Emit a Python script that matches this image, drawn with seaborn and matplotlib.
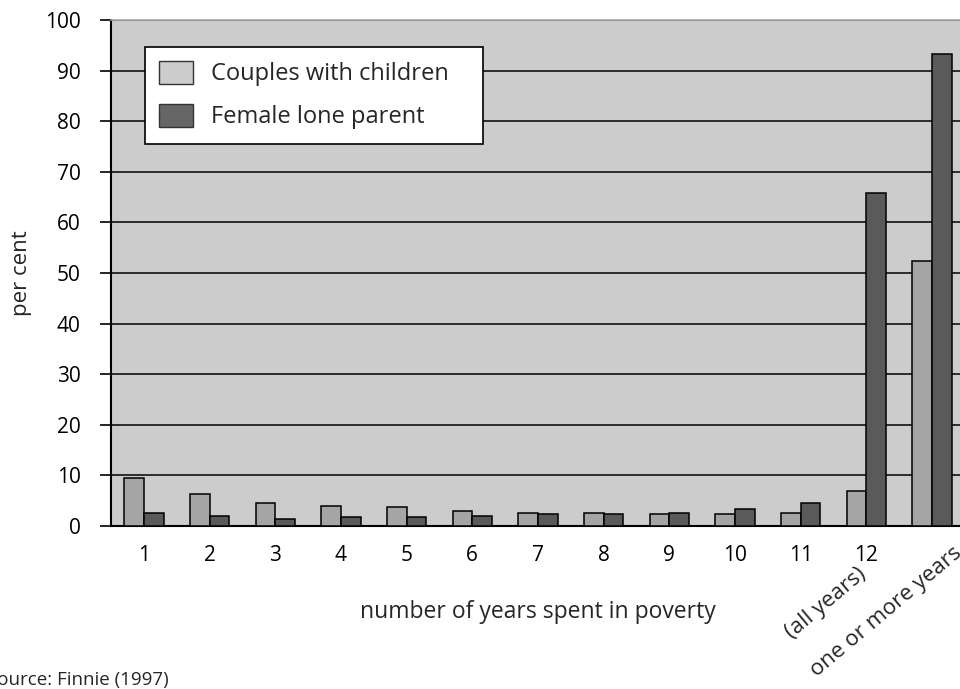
"""
Years spent in poverty, couples with children vs female lone parents
(after Finnie 1997).
"""

import matplotlib
matplotlib.use("Agg")
import matplotlib.pyplot as plt
from matplotlib.patches import Patch
import numpy as np
import pandas as pd
import seaborn as sns

# data
categories = ["1", "2", "3", "4", "5", "6", "7", "8", "9", "10", "11", "12", "one or more years"]
couples = [9.4, 6.3, 4.6, 4.0, 3.7, 3.05, 2.65, 2.65, 2.3, 2.3, 2.6, 7.0, 52.3]
female_lone = [2.65, 2.0, 1.3, 1.7, 1.8, 2.05, 2.3, 2.3, 2.65, 3.4, 4.6, 65.8, 93.2]
series_names = ["Couples with children", "Female lone parent"]
y_ticks = list(range(0, 101, 10))

bar_colors = ["#a5a5a5", "#5a5a5a"]
legend_colors = ["#cdcdcd", "#666666"]

df = pd.DataFrame({
    "years": categories * 2,
    "per_cent": couples + female_lone,
    "group": [series_names[0]] * len(categories) + [series_names[1]] * len(categories),
})

sns.set_theme(style="white")
plt.rcParams["font.family"] = ["Open Sans", "DejaVu Sans"]

fig = plt.figure(figsize=(9.6, 6.89), dpi=100)
ax = fig.add_axes([111 / 960, 163 / 689, 854 / 960, 506 / 689])
ax.set_facecolor("#cccccc")

sns.barplot(data=df, x="years", y="per_cent", hue="group", order=categories,
            hue_order=series_names, palette=bar_colors, width=0.6, gap=0,
            edgecolor="black", linewidth=1.1, ax=ax, legend=False, zorder=3)

ax.set_xlim(-0.5, len(categories) - 0.5)
ax.set_ylim(0, 100)
ax.set_yticks(y_ticks)
ax.set_yticklabels([str(t) for t in y_ticks], fontsize=15, color="black")
ax.yaxis.grid(True, color="#111111", linewidth=1.2, zorder=1)
ax.set_axisbelow(True)

# labels at group centres, tick marks at group boundaries
ax.set_xticks(range(len(categories)))
ax.set_xticklabels(categories[:-1] + [""], fontsize=15, color="black")
ax.set_xticks(np.arange(-0.5, len(categories), 1.0), minor=True)
ax.tick_params(axis="x", which="major", length=0, pad=14)
ax.tick_params(axis="x", which="minor", length=7, width=1.2, color="black", direction="out")
ax.tick_params(axis="y", length=8, width=1.2, color="black", direction="out", pad=14, left=True)

# rotated extra labels below the last two groups
ax.annotate("(all years)", xy=(11, 0), xycoords=("data", "axes fraction"),
            xytext=(3, -27), textcoords="offset points", rotation=40,
            ha="right", va="top", fontsize=16)
ax.annotate("one or more years", xy=(12, 0), xycoords=("data", "axes fraction"),
            xytext=(24, -12), textcoords="offset points", rotation=40,
            ha="right", va="top", fontsize=16)

for side in ["left", "bottom"]:
    ax.spines[side].set_color("black")
    ax.spines[side].set_linewidth(1.5)
ax.spines["top"].set_color("#aaaaaa")
ax.spines["top"].set_linewidth(1.2)
ax.spines["right"].set_visible(False)

ax.set_xlabel("number of years spent in poverty", fontsize=16.5, labelpad=24)
ax.set_ylabel("per cent", fontsize=16, labelpad=9)

handles = [Patch(facecolor=c, edgecolor="#333333", linewidth=1) for c in legend_colors]
leg = ax.legend(handles, series_names, loc="upper left",
                bbox_to_anchor=(34 / 854, 0.947 - 0.19, 338 / 854, 0.19), mode="expand",
                borderaxespad=0, fontsize=17, frameon=True, fancybox=False,
                handlelength=1.45, handleheight=1.1, labelspacing=0.75,
                borderpad=0.6, handletextpad=0.75)
leg.get_frame().set_edgecolor("black")
leg.get_frame().set_linewidth(1.2)
leg.get_frame().set_facecolor("white")
leg.get_frame().set_alpha(1)
leg.set_zorder(5)

fig.text(-13 / 960, 0, "Source: Finnie (1997)", fontsize=13.5, ha="left", va="bottom")

fig.savefig("out.png", dpi=100)
